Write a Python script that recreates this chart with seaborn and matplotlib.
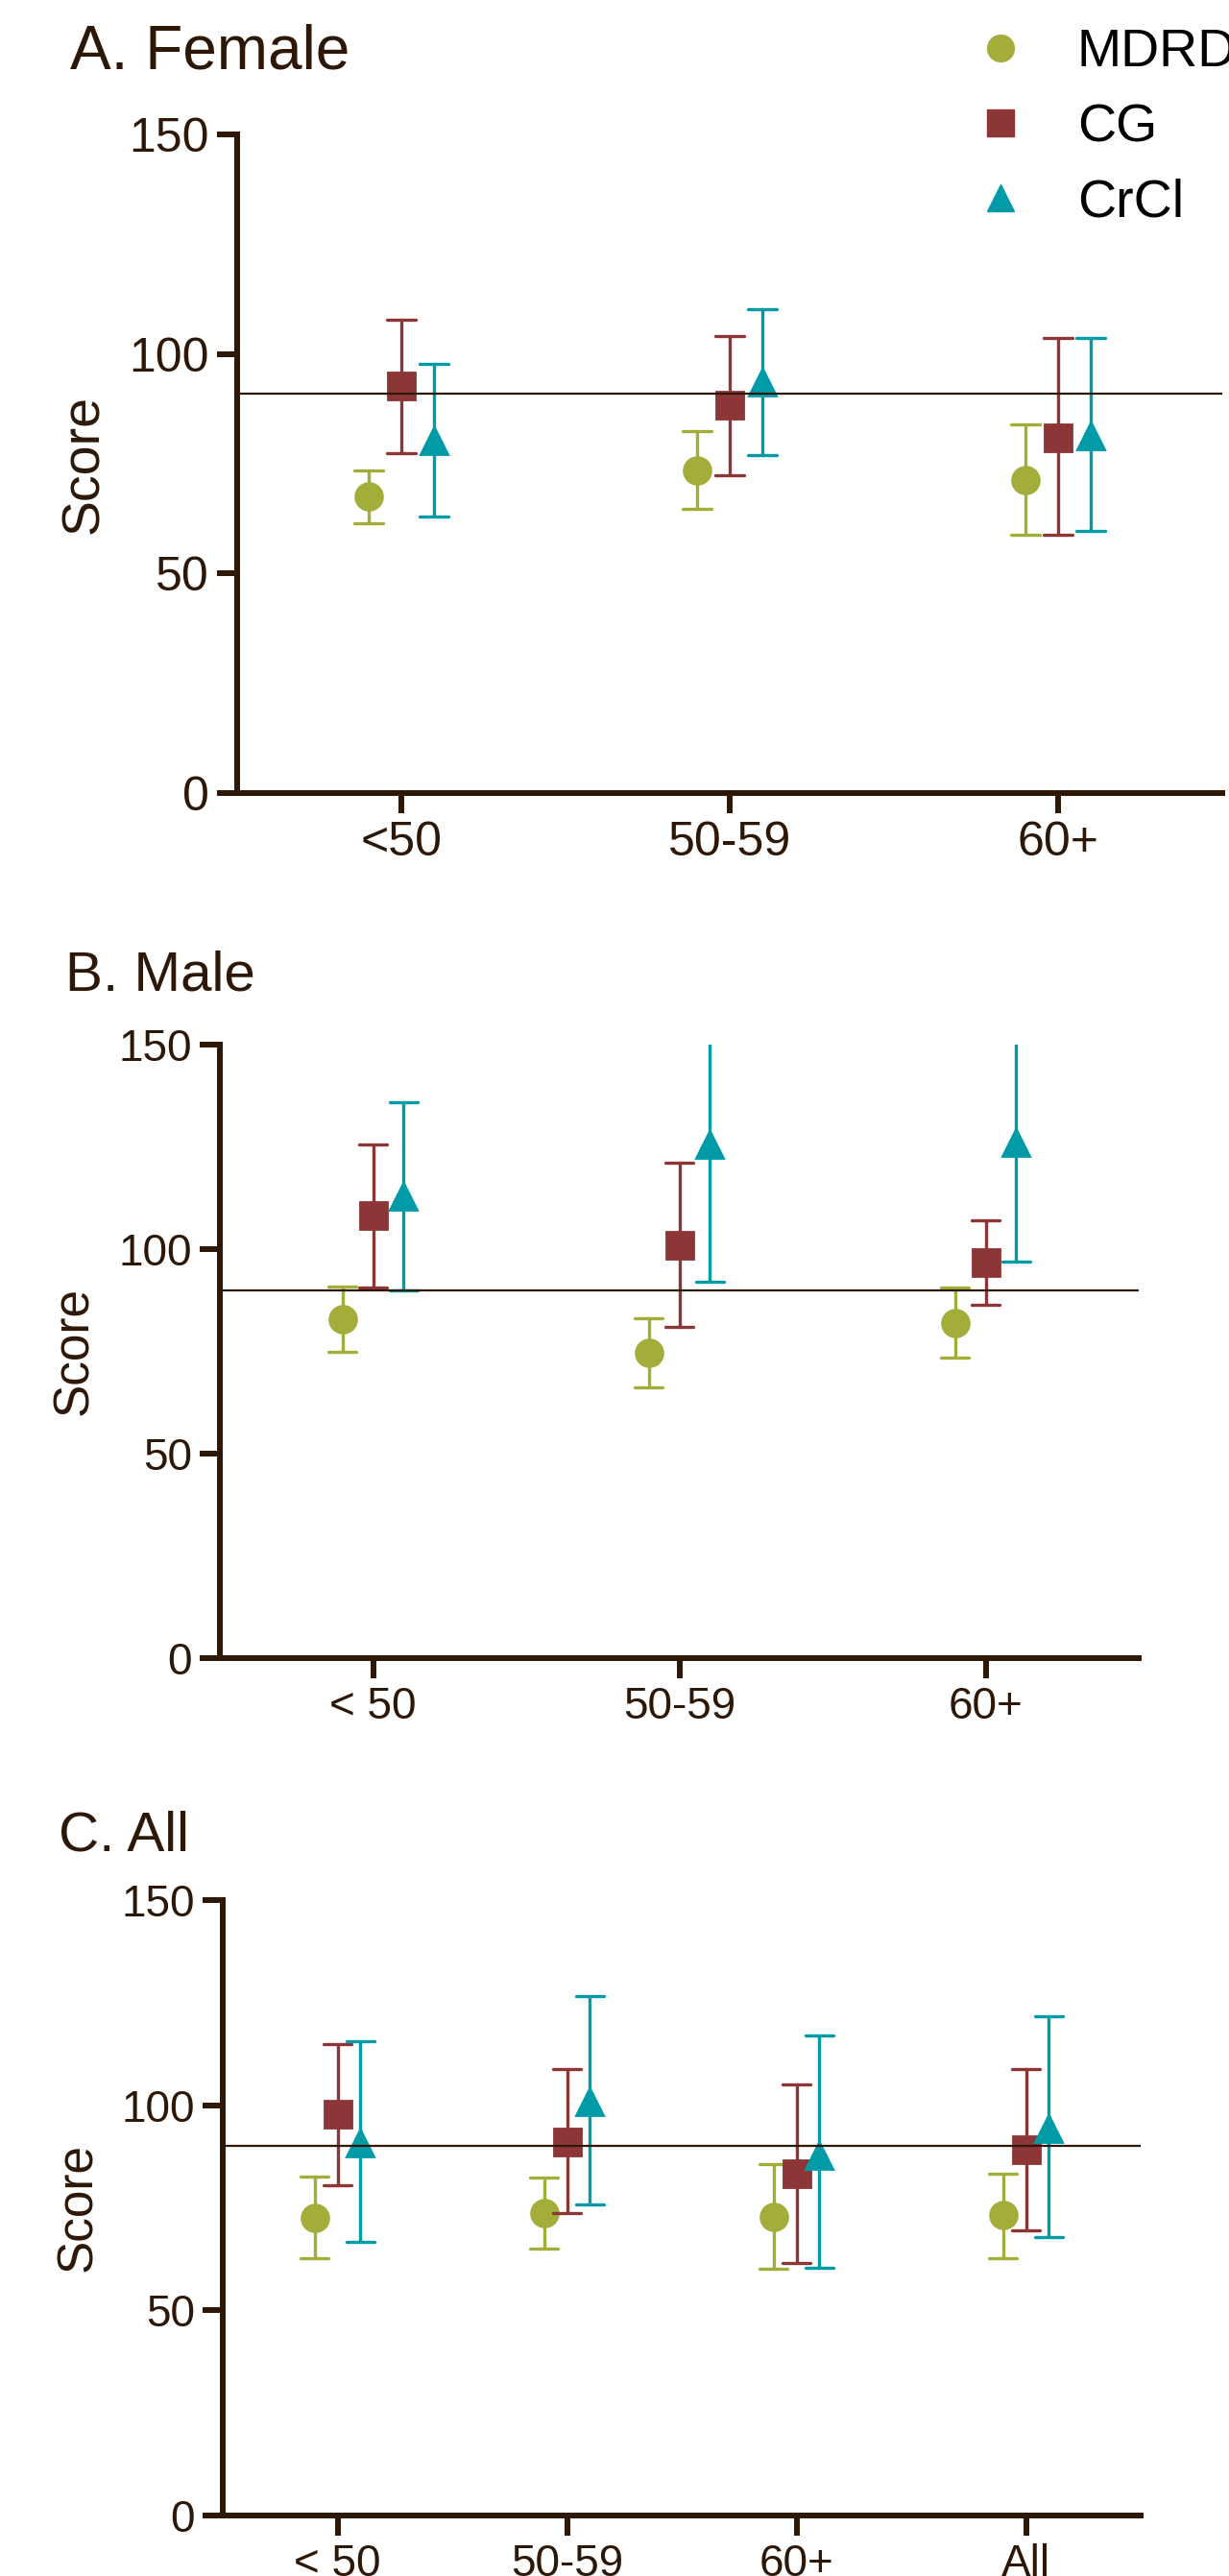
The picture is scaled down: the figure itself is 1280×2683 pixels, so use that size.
import matplotlib
matplotlib.use('Agg')
import matplotlib.pyplot as plt
from matplotlib.lines import Line2D
import seaborn as sns
import pandas as pd

methods = ['MDRD', 'CG', 'CrCl']
colors = ['#a2ad3a', '#8c3637', '#019ba8']
markers = ['o', 's', '^']
dark = '#2d1808'

# each entry: (estimate, lower, upper)
female_groups = ['<50', '50-59', '60+']
female_mdrd = [(67.5, 61.5, 73.5), (73.5, 64.7, 82.4), (71.3, 58.8, 83.9)]
female_cg = [(92.7, 77.5, 107.9), (88.3, 72.4, 104.1), (81.0, 58.8, 103.6)]
female_crcl = [(80.3, 63.0, 97.8), (93.6, 77.0, 110.3), (81.3, 59.8, 103.7)]
female_ref = 91.0

male_groups = ['< 50', '50-59', '60+']
male_mdrd = [(82.9, 75.0, 90.9), (74.6, 66.1, 83.2), (82.0, 73.4, 90.7)]
male_cg = [(108.3, 90.5, 125.7), (100.9, 80.9, 121.1), (96.6, 86.3, 107.0)]
male_crcl = [(112.9, 89.8, 136.0), (125.6, 92.1, 160.0), (126.1, 96.9, 160.0)]
male_ref = 90.0

all_groups = ['< 50', '50-59', '60+', 'All']
all_mdrd = [(72.6, 62.6, 82.6), (73.8, 65.1, 82.3), (72.8, 60.2, 85.6), (73.2, 62.6, 83.4)]
all_cg = [(97.8, 80.5, 114.9), (91.1, 73.6, 108.8), (83.2, 61.5, 105.1), (89.2, 69.5, 108.9)]
all_crcl = [(90.8, 66.7, 115.5), (100.8, 75.8, 126.7), (87.7, 60.3, 116.9), (94.3, 67.9, 121.7)]
all_ref = 90.1

yticks = [0, 50, 100, 150]

sns.set_style('ticks')
plt.rcParams['font.family'] = ['Liberation Sans', 'DejaVu Sans']


def to_long(groups, series):
    rows = []
    for method, values in zip(methods, series):
        for group, (est, lo, hi) in zip(groups, values):
            for v in (lo, est, hi):
                rows.append({'group': group, 'method': method, 'score': v})
    return pd.DataFrame(rows)


def draw_panel(ax, groups, series, ref, capsize, tick_size, label_size, label_x):
    df = to_long(groups, series)
    sns.pointplot(data=df, x='group', y='score', hue='method', order=groups, hue_order=methods,
                  palette=colors, markers=markers, linestyle='none', dodge=0.2,
                  estimator='median', errorbar=lambda v: (v.min(), v.max()),
                  capsize=capsize, err_kws={'linewidth': 2.4}, markersize=20,
                  legend=False, ax=ax)
    ax.axhline(ref, color=dark, linewidth=1.6, zorder=10)
    ax.set_ylim(0, 150)
    ax.set_xlim(-0.5, len(groups) - 0.5)
    ax.set_yticks(yticks)
    ax.set_xlabel('')
    ax.set_ylabel('Score', fontsize=label_size, color=dark, va='center')
    ax.yaxis.set_label_coords(label_x, 0.5)
    sns.despine(ax=ax)
    for side in ['left', 'bottom']:
        ax.spines[side].set_linewidth(4.3)
        ax.spines[side].set_color(dark)
    ax.tick_params(axis='both', length=15, width=4.3, color=dark, labelcolor=dark,
                   labelsize=tick_size, pad=6)


fig = plt.figure(figsize=(12.8, 26.83), dpi=100)
W, H = 1280, 2683

ax_a = fig.add_axes([247 / W, 1 - 826 / H, 1026 / W, 686 / H])
draw_panel(ax_a, female_groups, [female_mdrd, female_cg, female_crcl], female_ref,
           0.088, 36, 40, -0.155)

ax_b = fig.add_axes([229 / W, 1 - 1727 / H, 957 / W, 639 / H])
draw_panel(ax_b, male_groups, [male_mdrd, male_cg, male_crcl], male_ref,
           0.09, 33, 37, -0.158)

ax_c = fig.add_axes([232 / W, 1 - 2620 / H, 956 / W, 641 / H])
draw_panel(ax_c, all_groups, [all_mdrd, all_cg, all_crcl], all_ref,
           0.12, 33, 37, -0.157)

fig.text(73 / W, 1 - 72 / H, 'A. Female', fontsize=46, color=dark, va='baseline')
fig.text(68 / W, 1 - 1032 / H, 'B. Male', fontsize=42, color=dark, va='baseline')
fig.text(61 / W, 1 - 1927 / H, 'C. All', fontsize=42, color=dark, va='baseline')

handles = [Line2D([], [], marker=m, color=c, linestyle='none', markersize=20)
           for m, c in zip(markers, colors)]
fig.legend(handles, methods, loc='upper left', bbox_to_anchor=(1014 / W, 1 - 29 / H),
           frameon=False, fontsize=40, handlelength=1.0, handletextpad=0.94,
           labelspacing=0.47, borderpad=0, borderaxespad=0, labelcolor='black')

fig.savefig('out.png', dpi=100)
